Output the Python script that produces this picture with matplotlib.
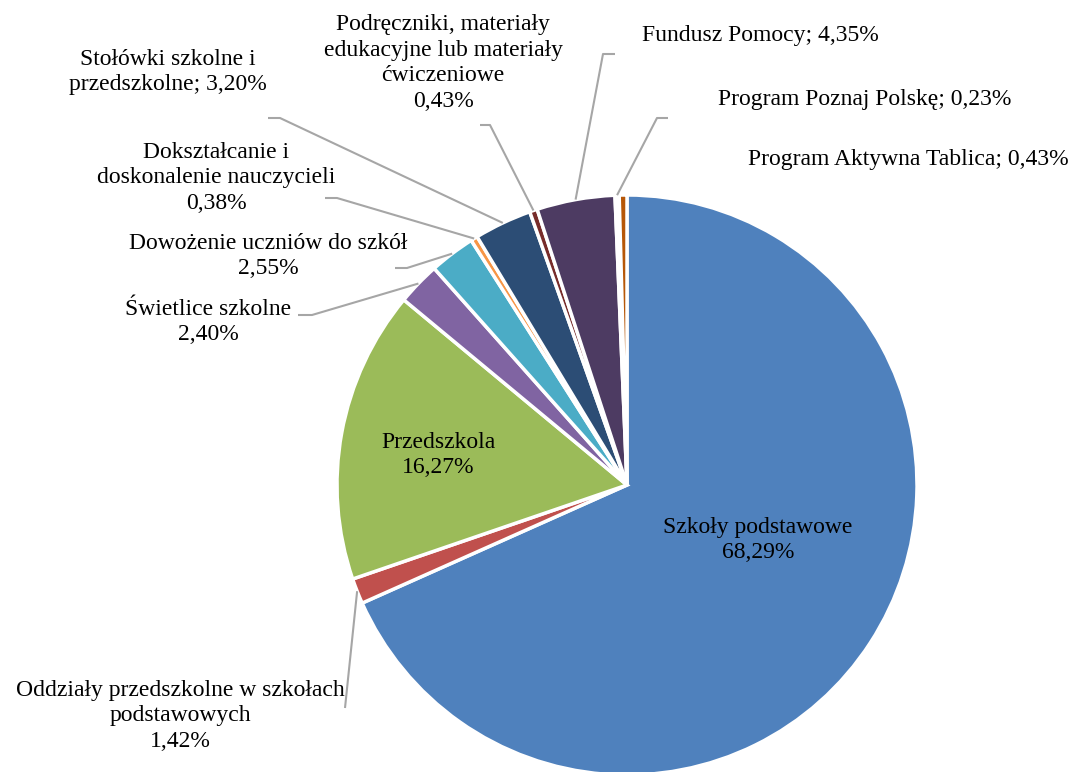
import numpy as np
import matplotlib.pyplot as plt

plt.rcParams["font.family"] = ["Liberation Serif", "DejaVu Serif"]

# Data (clockwise from 12 o'clock)
categories = [
    "Szkoły podstawowe",
    "Oddziały przedszkolne w szkołach\npodstawowych",
    "Przedszkola",
    "Świetlice szkolne",
    "Dowożenie uczniów do szkół",
    "Dokształcanie i\ndoskonalenie nauczycieli",
    "Stołówki szkolne i\nprzedszkolne",
    "Podręczniki, materiały\nedukacyjne lub materiały\nćwiczeniowe",
    "Fundusz Pomocy",
    "Program Poznaj Polskę",
    "Program Aktywna Tablica",
]
values = [68.29, 1.42, 16.27, 2.40, 2.55, 0.38, 3.20, 0.43, 4.35, 0.23, 0.43]
# separator between name and value: "\n" or "; "
separators = ["\n", "\n", "\n", "\n", "\n", "\n", "; ", "\n", "; ", "; ", "; "]
colors = ["#4F81BD", "#C0504D", "#9BBB59", "#8064A2", "#4BACC6", "#F79646",
          "#2C4D75", "#772C2A", "#4D3B62", "#FFFFFF", "#B65708"]

# Layout (image pixel coords, y from top)
W, H = 1078, 772
cx, cy, R = 627, 485, 290
label_pos = [
    (758, 540, "center"), (180, 716, "center"), (438, 455, "center"),
    (208, 322, "center"), (268, 256, "center"), (216, 178, "center"),
    (168, 72, "center"), (443, 63, "center"), (642, 35, "left"),
    (718, 100, "left"), (748, 159, "left"),
]
# elbow points of leader lines (None = no leader line)
elbows = [
    None, [(345, 708)], None,
    [(312, 315), (298, 315)],
    [(407, 268), (395, 268)],
    [(337, 198), (325, 198)],
    [(280, 118), (268, 118)],
    [(490, 125), (480, 125)],
    [(603, 54), (615, 54)],
    [(657, 118), (668, 118)],
    None,
]


def fmt(v):
    return f"{v:.2f}".replace(".", ",") + "%"


fig = plt.figure(figsize=(W / 100, H / 100), dpi=100)
ax = fig.add_axes([0, 0, 1, 1])

ax.pie(values, colors=colors, startangle=90, counterclock=False,
       center=(cx, H - cy), radius=R,
       wedgeprops=dict(edgecolor="white", linewidth=2.5))

ax.set_xlim(0, W)
ax.set_ylim(0, H)
ax.set_aspect("equal")
ax.axis("off")

# leader lines from slice rim to label
cum = np.cumsum([0] + values)
total = sum(values)
for i, pts in enumerate(elbows):
    if pts is None:
        continue
    theta = np.deg2rad((cum[i] + values[i] / 2) / total * 360)
    ax0 = cx + R * np.sin(theta)
    ay0 = cy - R * np.cos(theta)
    xs = [ax0] + [p[0] for p in pts]
    ys = [H - ay0] + [H - p[1] for p in pts]
    ax.plot(xs, ys, color="#A6A6A6", lw=1.5, solid_capstyle="butt")

for i, (x, y, ha) in enumerate(label_pos):
    txt = categories[i] + separators[i] + fmt(values[i])
    ax.text(x, H - y, txt, ha=ha, va="center", fontsize=17,
            color="black", multialignment="center", linespacing=1.3)

fig.savefig("out.png", dpi=100)
